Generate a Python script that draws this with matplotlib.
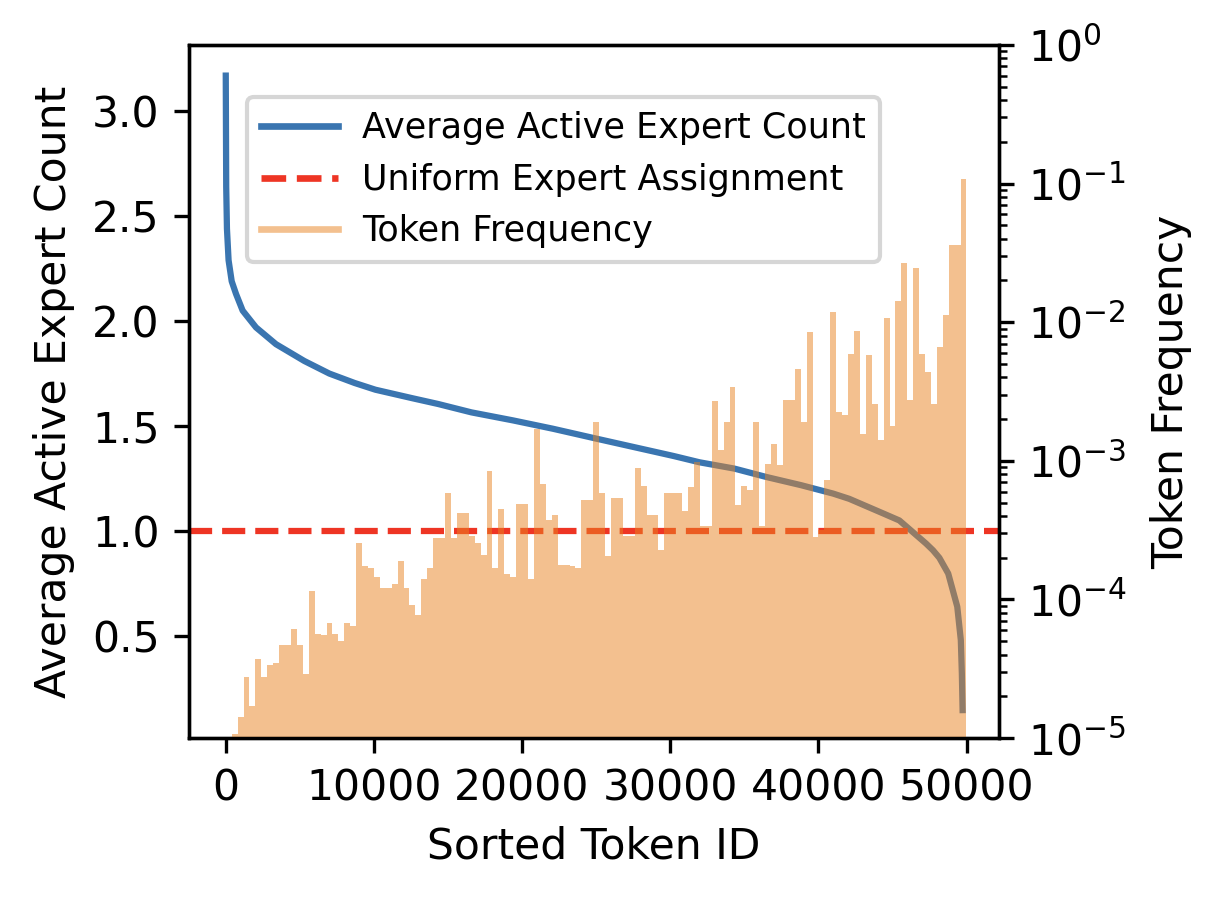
import numpy as np
import matplotlib
matplotlib.use("Agg")
import matplotlib.pyplot as plt
from matplotlib.lines import Line2D

# ---- data ----
# Average active expert count vs. sorted token id
expert_token_ids = [0, 30, 80, 190, 400, 690, 1140, 2040, 3390, 5300, 6990, 8700,
                    10100, 12620, 14330, 16580, 19370, 22080, 25000, 27710, 30230,
                    31980, 34330, 36490, 38830, 40990, 42080, 44350, 45460, 46280,
                    47260, 47730, 48160, 48760, 49370, 49610, 49680, 49730]
avg_active_count = [3.17, 2.64, 2.44, 2.29, 2.19, 2.13, 2.05, 1.97, 1.89, 1.81, 1.75,
                    1.705, 1.673, 1.632, 1.605, 1.565, 1.527, 1.487, 1.44, 1.397, 1.357,
                    1.327, 1.297, 1.257, 1.218, 1.178, 1.153, 1.084, 1.05, 1.0, 0.94,
                    0.908, 0.872, 0.797, 0.639, 0.48, 0.32, 0.146]

uniform_level = 1.0

# Token frequency (upper envelope per 400-token bin), stored as log10(frequency)
freq_bin_width = 400
freq_last_edge = 49930
token_freq_log10 = [
    # 0 - 10000
    -5.5, -4.97, -4.85, -4.56, -4.77, -4.43, -4.56, -4.47, -4.46, -4.33,
    -4.33, -4.21, -4.33, -4.54, -3.94, -4.25, -4.26, -4.17, -4.25, -4.30,
    -4.17, -4.19, -3.59, -3.76, -3.77,
    # 10000 - 20000
    -3.84, -3.92, -3.92, -3.89, -3.72, -3.92, -4.04, -4.11, -3.85, -3.77,
    -3.56, -3.56, -3.23, -3.56, -3.38, -3.38, -3.54, -3.59, -3.68, -3.07,
    -3.77, -3.35, -3.82, -3.84, -3.31,
    # 20000 - 30000
    -3.31, -3.85, -2.77, -3.17, -3.43, -3.39, -3.75, -3.75, -3.76, -3.77,
    -3.28, -3.28, -2.72, -3.23, -3.69, -3.27, -3.27, -3.54, -3.54, -3.05,
    -3.18, -3.39, -3.39, -3.64, -3.23,
    # 30000 - 40000
    -3.23, -3.23, -3.36, -3.19, -3.01, -3.47, -3.47, -2.57, -2.92, -2.72,
    -2.47, -3.32, -3.18, -3.21, -2.72, -3.47, -3.02, -2.88, -3.03, -2.56,
    -2.56, -2.34, -2.72, -2.07, -3.55,
    # 40000 - 50000
    -3.50, -3.14, -1.93, -2.65, -2.67, -2.23, -2.06, -2.81, -2.24, -2.59,
    -2.85, -1.97, -2.75, -1.85, -1.57, -2.56, -1.61, -2.23, -2.36, -2.59,
    -2.18, -1.95, -1.44, -1.44, -0.97,
]

# ---- styling ----
BLUE = "#3A75B0"
RED = "#EE3524"
ORANGE = "#E98321"
FS = 10.2

plt.rcParams["font.family"] = ["DejaVu Sans"]

fig = plt.figure(figsize=(1219 / 300, 916 / 300), dpi=300)
ax = fig.add_axes([0.155, 0.1943, 0.6645, 0.7566])
ax2 = ax.twinx()

ax.plot(expert_token_ids, avg_active_count, color=BLUE, lw=1.5,
        label="Average Active Expert Count")
ax.axhline(uniform_level, color=RED, lw=1.5, ls="--",
           label="Uniform Expert Assignment")

freq = 10.0 ** np.array(token_freq_log10)
edges = np.arange(len(freq) + 1, dtype=float) * freq_bin_width
edges[-1] = freq_last_edge
ax2.stairs(freq, edges, baseline=1e-9, fill=True, color=ORANGE, alpha=0.5, lw=0)

ax.set_xlim(-2485, 52185)
ax.set_ylim(0.013, 3.316)
ax2.set_yscale("log")
ax2.set_ylim(1e-5, 1e0)

ax.set_xlabel("Sorted Token ID", fontsize=FS)
ax.set_ylabel("Average Active Expert Count", fontsize=FS)
ax2.set_ylabel("Token Frequency", fontsize=FS, labelpad=5.5)
ax.tick_params(labelsize=FS)
ax2.tick_params(labelsize=FS)

handles = [
    Line2D([], [], color=BLUE, lw=1.6),
    Line2D([], [], color=RED, lw=1.6, ls="--"),
    Line2D([], [], color=ORANGE, lw=1.6, alpha=0.5),
]
labels = ["Average Active Expert Count", "Uniform Expert Assignment", "Token Frequency"]
ax2.legend(handles, labels, loc="upper left", bbox_to_anchor=(0.0712, 0.9245),
           borderaxespad=0, fontsize=8.4, handlelength=2.2, handletextpad=0.7)

fig.savefig("out.png", dpi=300)
